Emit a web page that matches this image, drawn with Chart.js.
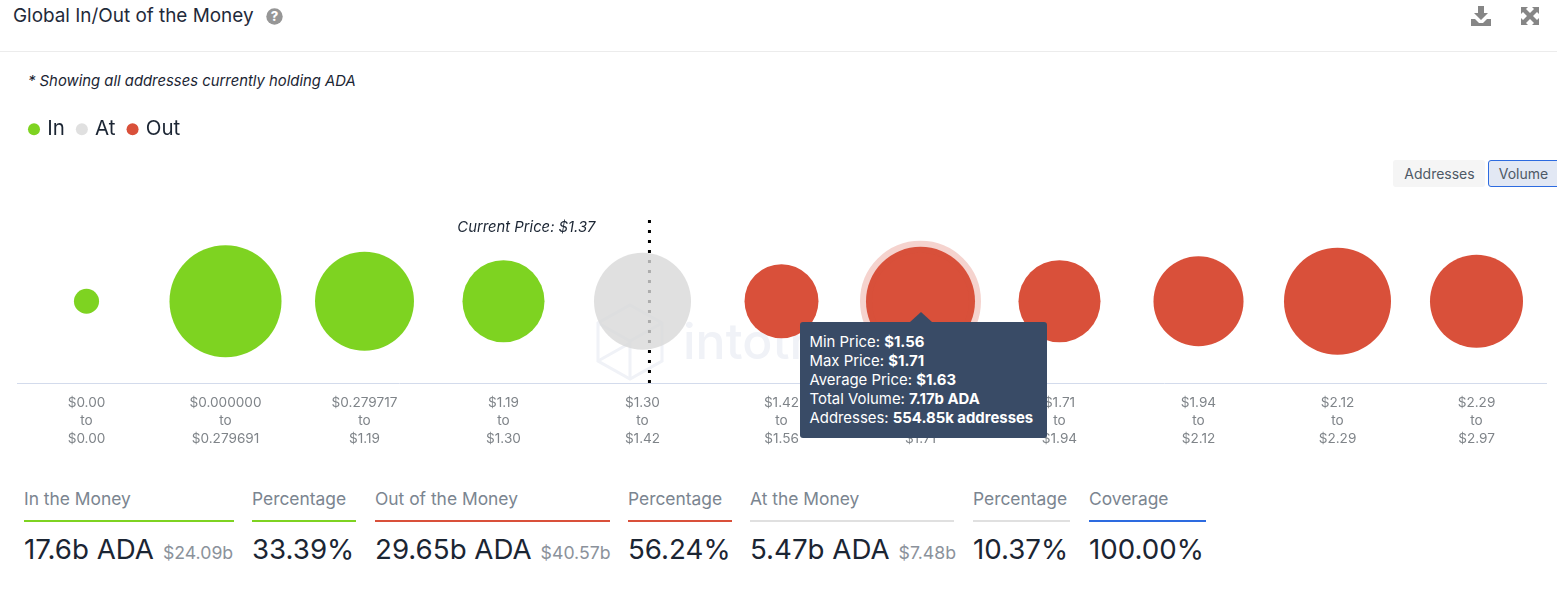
<!DOCTYPE html>
<html><head><meta charset="utf-8">
<script src="https://cdn.jsdelivr.net/npm/chart.js@4"></script>
<style>
html,body{margin:0;padding:0;background:#fff;width:1557px;height:602px;overflow:hidden;font-family:Inter,"Noto Sans",sans-serif;color:#1b2533}
.abs{position:absolute;white-space:nowrap}
#title{left:13px;top:5px;font-size:18.9px;line-height:22px;color:#1f2a3a}
#rule{left:0;top:51px;width:1557px;height:1px;background:#ececec}
#note{left:28px;top:72px;font-size:14.85px;line-height:18px;font-style:italic;color:#1b2533}
.btn{top:160px;height:27px;line-height:28px;font-size:14px;text-align:center;color:#4e5966;box-sizing:border-box;border-radius:3px}
#b1{left:1393px;width:92px;background:#f5f5f5;padding-left:1px}
#b2{left:1488px;width:72px;background:#e2e8f4;border:1px solid #2d6be0;line-height:26px;padding-right:1px}
#chart{position:absolute;left:0;top:105px}
#mark{left:683px;top:312px;font-size:50px;line-height:58px;color:#f0f2f7;font-weight:500}
#tip{position:absolute;box-sizing:border-box;background:#394b66;color:#fff;border-radius:3px;padding:11px 0 0 10px;width:247px;height:116px;font-size:14.9px;line-height:19px;white-space:nowrap}
#tip b{font-weight:700}
#tip:before{content:"";position:absolute;left:var(--ax);top:-10px;border:solid transparent;border-width:0 11px 10px 11px;border-bottom-color:#394b66;margin-left:-11px}
.m{position:absolute;top:488px}
.m .l{font-size:17.4px;line-height:22px;color:#7b8590;height:32px;border-bottom:2px solid;box-sizing:content-box;white-space:nowrap}
.m .v{font-size:27.7px;line-height:34px;margin-top:10px;color:#1b2533;white-space:nowrap}
.m .v span{font-size:17.7px;color:#8b929b;margin-left:9px}
</style></head><body>
<div class="abs" id="title">Global In/Out of the Money</div>
<svg class="abs" style="left:266px;top:8px" width="17" height="17" viewBox="0 0 17 17"><circle cx="8.5" cy="8.5" r="8.2" fill="#969696"/><text x="8.5" y="13.2" font-size="13" font-weight="800" text-anchor="middle" fill="#fff" font-family="Inter">?</text></svg>
<svg class="abs" style="left:1471px;top:6px" width="20" height="20" viewBox="0 0 20 20" fill="#868686"><path d="M7 0h6v7h4l-7 7-7-7h4z"/><path d="M0 13h4l4 4h4l4-4h4v7H0z"/></svg>
<svg class="abs" style="left:1521px;top:7px" width="18" height="18" viewBox="0 0 18 18" fill="#868686"><path d="M0 0h7L5 2l4 4 4-4-2-2h7v7l-2-2-4 4 4 4 2-2v7h-7l2-2-4-4-4 4 2 2H0v-7l2 2 4-4-4-4-2 2z"/></svg>
<div class="abs" id="rule"></div>
<div class="abs" id="note">* Showing all addresses currently holding ADA</div>
<div class="abs btn" id="b1">Addresses</div>
<div class="abs btn" id="b2">Volume</div>
<svg class="abs" style="left:595px;top:303px" width="70" height="78" viewBox="0 0 70 78" fill="none" stroke="#f0f2f7" stroke-width="3"><path d="M35 2 67 20v38L35 76 3 58V20z"/><path d="M3 20l32 18 32-18M35 38v38M3 58l32-18"/></svg>
<div class="abs" id="mark">intotheblock</div>
<canvas id="chart" width="1557" height="354"></canvas>
<div id="metrics"></div>
<script>
const lowTicks  = ['$0.00','$0.000000','$0.279717','$1.19','$1.30','$1.42','$1.56','$1.71','$1.94','$2.12','$2.29'];
const highTicks = ['$0.00','$0.279691','$1.19','$1.30','$1.42','$1.56','$1.71','$1.94','$2.12','$2.29','$2.97'];
const inVolumeB  = [0.38,7.57,5.91,4.06];
const atVolumeB  = [5.68];
const outVolumeB = [3.30,7.17,4.06,4.89,6.91,5.22];
const currentPrice = 'Current Price: $1.37';
const currentPriceSlot = 4.05;
const hoveredBucket = 6;
const tipLabels = ['Min Price:','Max Price:','Average Price:','Total Volume:','Addresses:'];
const tipValues = ['$1.56','$1.71','$1.63','7.17b ADA','554.85k addresses'];
const metricLabels = ['In the Money','Percentage','Out of the Money','Percentage','At the Money','Percentage','Coverage'];
const metricValues = ['17.6b ADA','33.39%','29.65b ADA','56.24%','5.47b ADA','10.37%','100.00%'];
const metricUsd    = ['$24.09b','','$40.57b','','$7.48b','',''];
const metricColors = ['#7ed321','#7ed321','#d9503a','#d9503a','#e0e0e0','#e0e0e0','#2d6be0'];
const metricLeft   = [24,252,375,628,750,973,1089];
const metricWidth  = [210,104,235,104,204,97,117];

metricLabels.forEach((t,i)=>{
  const d=document.createElement('div');d.className='m';d.style.left=metricLeft[i]+'px';d.style.width=metricWidth[i]+'px';
  d.innerHTML=`<div class="l" style="border-color:${metricColors[i]}">${t}</div><div class="v">${metricValues[i]}${metricUsd[i]?`<span>${metricUsd[i]}</span>`:''}</div>`;
  document.getElementById('metrics').appendChild(d);
});

const AREA = 1/0.0024135;               // px² per billion ADA
const pts = (arr,off)=>arr.map((v,i)=>({x:i+off,y:0,r:Math.sqrt(v*AREA)}));
const GREEN='#7ed321', RED='#d9503a', GREY='rgba(216,216,216,.8)';

const legendGap = {id:'legendGap',beforeInit(c){const f=c.legend.fit;c.legend.fit=function(){f.call(this);this.height+=70;};}};
const priceLabel = {id:'priceLabel',afterDatasetsDraw(c){
  const x=c.scales.x.getPixelForValue(currentPriceSlot),ctx=c.ctx;
  ctx.save();ctx.font='italic 14.8px Inter';ctx.fillStyle='#1b2533';ctx.textAlign='right';ctx.textBaseline='middle';
  ctx.fillText(currentPrice,x-54,c.chartArea.top+8);ctx.restore();
}};
function external({chart,tooltip}){
  let el=document.getElementById('tip');
  if(!el){el=document.createElement('div');el.id='tip';document.body.appendChild(el);}
  el.innerHTML=tipLabels.map((l,i)=>`${l} <b>${tipValues[i]}</b>`).join('<br>');
  const cv=chart.canvas, cx=tooltip.caretX+cv.offsetLeft, cy=tooltip.caretY+cv.offsetTop;
  el.style.left=(cx-121)+'px';el.style.top=(cy+21)+'px';el.style.setProperty('--ax','121px');
}
const chart = new Chart(document.getElementById('chart'),{
  type:'bubble',
  data:{datasets:[
    {label:'In',data:pts(inVolumeB,0),backgroundColor:GREEN,borderWidth:0,hoverRadius:0,order:1},
    {label:'At',data:pts(atVolumeB,4),backgroundColor:GREY,borderWidth:0,hoverRadius:0,order:1},
    {label:'Out',data:pts(outVolumeB,5),backgroundColor:RED,borderWidth:0,hoverRadius:0,hoverBackgroundColor:RED,
      hoverBorderWidth:12,hoverBorderColor:'rgba(217,80,58,.25)',order:1},
    {type:'line',label:'Current Price',data:[{x:currentPriceSlot,y:-1},{x:currentPriceSlot,y:1}],borderColor:'#000',
      borderWidth:3,borderDash:[3,7],pointRadius:0,order:2,clip:false}
  ]},
  options:{
    responsive:false,animation:false,events:[],
    layout:{autoPadding:false,padding:{left:17,right:11,top:0,bottom:0}},
    scales:{
      x:{type:'linear',min:-0.5,max:10.5,
        afterBuildTicks(a){a.ticks=lowTicks.map((_,i)=>({value:i}));},
        grid:{display:true,drawOnChartArea:false,drawTicks:false},
        border:{display:true,color:'#d3dbec',width:1},
        ticks:{autoSkip:false,maxRotation:0,padding:11,color:'#7f8489',font:{family:'Inter',size:13.6,lineHeight:'18px'},
          callback:v=>[lowTicks[v],'to',highTicks[v]]}},
      y:{display:false,min:-1,max:1}
    },
    plugins:{
      legend:{position:'top',align:'start',
        labels:{usePointStyle:true,pointStyle:'circle',boxWidth:6,boxHeight:8.5,padding:14,color:'#1b2533',
          font:{family:'Inter',size:20.5},filter:i=>i.text!=='Current Price'}},
      tooltip:{enabled:false,external}
    }
  },
  plugins:[legendGap,priceLabel]
});
const active=[{datasetIndex:2,index:hoveredBucket-5}];
chart.setActiveElements(active);
chart.tooltip.setActiveElements(active,{x:0,y:0});
chart.update();
</script>
</body></html>
